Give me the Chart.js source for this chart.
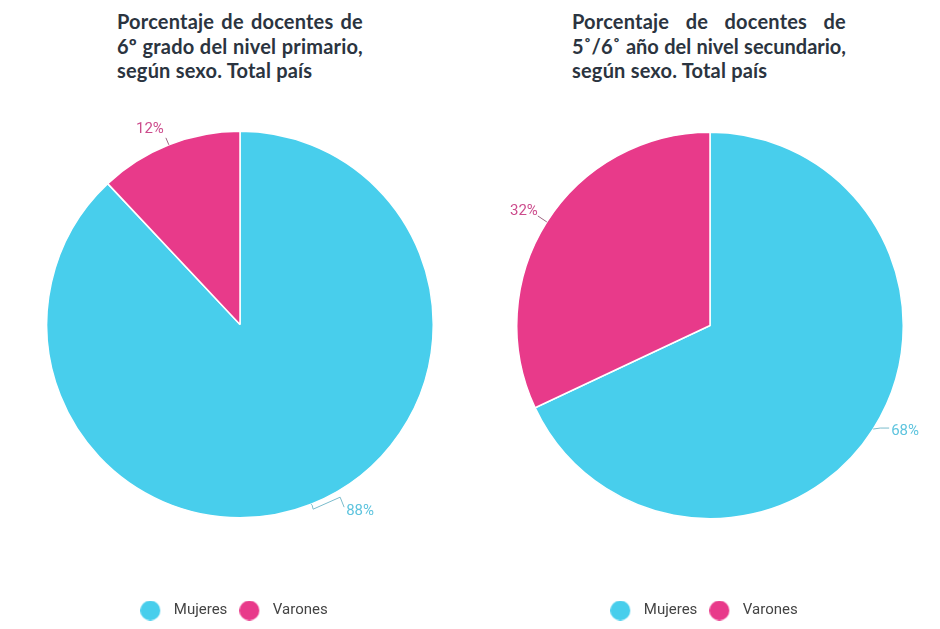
<!DOCTYPE html>
<html>
<head>
<meta charset="utf-8">
<script src="https://cdn.jsdelivr.net/npm/chart.js@4/dist/chart.umd.min.js"></script>
<style>
  html, body { margin:0; padding:0; background:#fff; width:940px; height:629px; overflow:hidden; }
  .title { position:absolute; font-family:Lato, "Open Sans", sans-serif; font-weight:700; font-size:20px; letter-spacing:0.2px; line-height:24.5px; color:#2b3440; }
  .title div { white-space:nowrap; }
  .title .j { text-align:justify; text-align-last:justify; }
  .title .tight { letter-spacing:0; }
  #t1 { left:117px; top:9px; width:246px; }
  #t2 { left:572px; top:9px; width:274px; }
  canvas { position:absolute; }
  #wrap1 { position:absolute; left:0; top:0; width:480px; height:629px; }
  #wrap2 { position:absolute; left:470px; top:0; width:470px; height:629px; }
</style>
</head>
<body>
<div class="title" id="t1"><div class="j">Porcentaje de docentes de</div><div class="j">6º grado del nivel primario,</div><div>según sexo. Total país</div></div>
<div class="title" id="t2"><div class="j">Porcentaje de docentes de</div><div class="j tight">5˚/6˚ año del nivel secundario,</div><div>según sexo. Total país</div></div>
<div id="wrap1"><canvas id="c1"></canvas></div>
<div id="wrap2"><canvas id="c2"></canvas></div>
<script>
const categories = ['Mujeres', 'Varones'];
const primario = [88, 12];
const secundario = [68, 32];
const colors = ['#48ceec', '#e83a8a'];
const labelColors = ['#5ec4de', '#cc4b8c'];
const lineColors = ['#7bbccc', '#9c6782'];

Chart.defaults.font.family = 'Roboto';

function dotImage(color) {
  const c = document.createElement('canvas');
  c.width = 26; c.height = 20;
  const ctx = c.getContext('2d');
  ctx.fillStyle = color;
  ctx.beginPath();
  ctx.arc(10, 10, 10, 0, Math.PI * 2);
  ctx.fill();
  return c;
}
const dots = colors.map(dotImage);

const leaderPlugin = {
  id: 'leaders',
  afterLayout(chart, args, opts) {
    if (chart.legend && opts.legendShift) {
      chart.legend.left += opts.legendShift;
      chart.legend.right += opts.legendShift;
    }
  },
  afterDatasetsDraw(chart, args, opts) {
    const ctx = chart.ctx;
    const meta = chart.getDatasetMeta(0);
    const data = chart.data.datasets[0].data;
    meta.data.forEach((arc, i) => {
      const cfg = opts.items[i];
      const mid = (arc.startAngle + arc.endAngle) / 2;
      const ax = arc.x + Math.cos(mid) * arc.outerRadius;
      const ay = arc.y + Math.sin(mid) * arc.outerRadius;
      ctx.save();
      ctx.strokeStyle = lineColors[i];
      ctx.lineWidth = 1;
      ctx.beginPath();
      ctx.moveTo(ax, ay);
      cfg.path.forEach(p => ctx.lineTo(ax + p[0], ay + p[1]));
      ctx.stroke();
      ctx.fillStyle = labelColors[i];
      ctx.font = '15px Roboto';
      ctx.textAlign = cfg.align;
      ctx.textBaseline = 'middle';
      ctx.fillText(data[i] + '%', ax + cfg.text[0], ay + cfg.text[1]);
      ctx.restore();
    });
  }
};

function makeChart(id, values, padding, items) {
  return new Chart(document.getElementById(id), {
    type: 'pie',
    data: {
      labels: categories,
      datasets: [{
        data: values,
        backgroundColor: colors,
        borderColor: '#ffffff',
        borderWidth: 1.5,
        hoverOffset: 0
      }]
    },
    options: {
      responsive: true,
      maintainAspectRatio: false,
      animation: false,
      layout: { padding: padding },
      plugins: {
        tooltip: { enabled: false },
        leaders: { items: items, legendShift: -6 },
        legend: {
          position: 'bottom',
          labels: {
            usePointStyle: true,
            pointStyleWidth: 26,
            boxHeight: 14,
            padding: 12,
            color: '#444444',
            font: { size: 15, family: 'Roboto' },
            generateLabels(chart) {
              const base = Chart.overrides.pie.plugins.legend.labels.generateLabels(chart);
              return base.map((l, i) => Object.assign(l, { pointStyle: dots[i] }));
            }
          }
        }
      }
    },
    plugins: [leaderPlugin]
  });
}

makeChart('c1', primario, { top: 58, bottom: 1, left: 46, right: 46 }, [
  { path: [[1, 1], [2, 5], [29, -7], [33, 3]], text: [35, 7], align: 'left' },
  { path: [[-3, -7]], text: [-5, -15.5], align: 'right' }
]);
makeChart('c2', secundario, { top: 60, bottom: 1, left: 46, right: 36 }, [
  { path: [[7, -1], [16, -1]], text: [18, 2], align: 'left' },
  { path: [[-9, -6]], text: [-9, -11], align: 'right' }
]);
</script>
</body>
</html>
